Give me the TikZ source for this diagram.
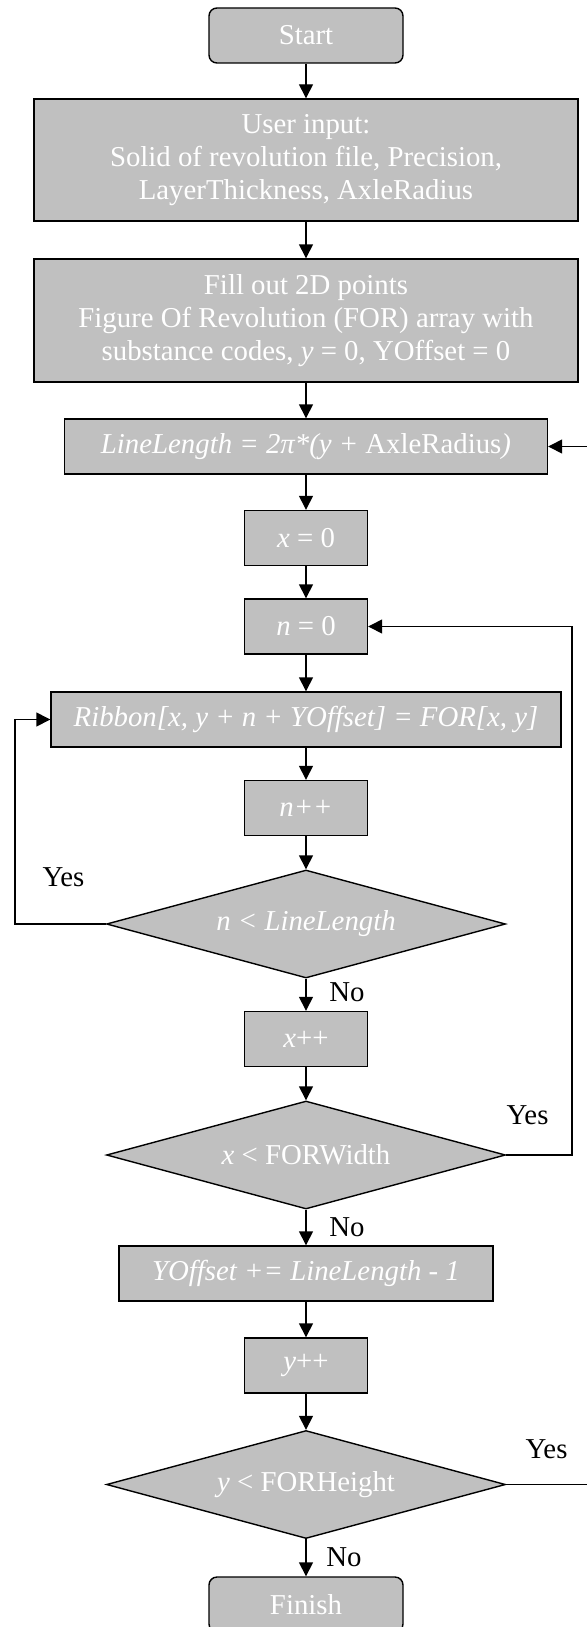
\documentclass[tikz,border=0pt]{standalone}
\usepackage{fontspec}
\setmainfont{Liberation Serif}
\usetikzlibrary{arrows.meta,shapes.geometric}

\definecolor{boxgray}{RGB}{192,192,192}
\tikzset{
  box/.style={draw, line width=0.7pt, fill=boxgray, text=white, align=center,
    minimum height=27.5pt, inner sep=2pt},
  term/.style={box, rounded corners=4pt, minimum width=97pt},
  test/.style={draw, line width=0.7pt, fill=boxgray, text=white, diamond,
    aspect=3.7, minimum width=199.5pt, minimum height=54pt, inner sep=0pt},
  flow/.style={line width=0.7pt, -{Triangle[length=7pt,width=7pt]}},
  answer/.style={text=black, inner sep=0pt}
}

\begin{document}
\begin{tikzpicture}[x=0.5pt,y=-0.5pt,font={\fontsize{14.4}{16.6}\selectfont}]
  \useasboundingbox (0,0) rectangle (587,1627);
  % Start and setup
  \node[term] (start) at (306,35.5) {Start};
  \node[box, minimum width=272pt, minimum height=61pt] (input) at (306,160)
    {User input:\\Solid of revolution file, Precision,\\LayerThickness, AxleRadius};
  \node[box, minimum width=272pt, minimum height=61.5pt] (fill) at (306,320.5)
    {Fill out 2D points\\Figure Of Revolution (FOR) array with\\substance codes, \textit{y} = 0, YOffset = 0};
  \node[box, minimum width=241.5pt] (linelen) at (306,446.5)
    {\textit{LineLength = 2π*(y +} AxleRadius\textit{)}};
  \node[box, minimum width=61.5pt] (xzero) at (306,538) {\textit{x} = 0};
  \node[box, minimum width=61.5pt] (nzero) at (306,626.5) {\textit{n} = 0};
  % Inner loop
  \node[box, minimum width=255pt] (ribbon) at (306,719.5)
    {\textit{Ribbon[x, y + n + YOffset] = FOR[x, y]}};
  \node[box, minimum width=61.5pt] (ninc) at (306,808) {\textit{n++}};
  \node[test] (ntest) at (306,924) {\textit{n < LineLength}};
  \node[box, minimum width=61.5pt] (xinc) at (306,1039) {\textit{x}++};
  \node[test] (xtest) at (306,1155) {\textit{x} < FORWidth};
  % Outer loop
  \node[box, minimum width=187pt] (yoff) at (306,1273.5)
    {\textit{YOffset += LineLength - 1}};
  \node[box, minimum width=61.5pt] (yinc) at (306,1365.5) {\textit{y}++};
  \node[test] (ytest) at (306,1484.5) {\textit{y} < FORHeight};
  \node[term] (finish) at (306,1604.5) {Finish};
  % Straight connectors
  \draw[flow] (start) -- (input);
  \draw[flow] (input) -- (fill);
  \draw[flow] (fill) -- (linelen);
  \draw[flow] (linelen) -- (xzero);
  \draw[flow] (xzero) -- (nzero);
  \draw[flow] (nzero) -- (ribbon);
  \draw[flow] (ribbon) -- (ninc);
  \draw[flow] (ninc) -- (ntest);
  \draw[flow] (ntest) -- (xinc);
  \draw[flow] (xinc) -- (xtest);
  \draw[flow] (xtest) -- (yoff);
  \draw[flow] (yoff) -- (yinc);
  \draw[flow] (yinc) -- (ytest);
  \draw[flow] (ytest) -- (finish);
  % Loop back connectors
  \coordinate (lft) at (15,924);
  \coordinate (rgt) at (572,1155);
  \coordinate (edge) at (593,1484.5);
  \draw[flow] (ntest.west) -- (lft) |- (ribbon.west);
  \draw[flow] (xtest.east) -- (rgt) |- (nzero.east);
  \draw[flow] (ytest.east) -- (edge) |- (linelen.east);
  % Labels
  \node[answer] (yes1) at (63.5,877) {Yes};
  \node[answer] (no1) at (347,992) {No};
  \node[answer] (yes2) at (527.5,1115) {Yes};
  \node[answer] (no2) at (347,1227) {No};
  \node[answer] (yes3) at (546.5,1449) {Yes};
  \node[answer] (no3) at (344,1557) {No};
\end{tikzpicture}
\end{document}
